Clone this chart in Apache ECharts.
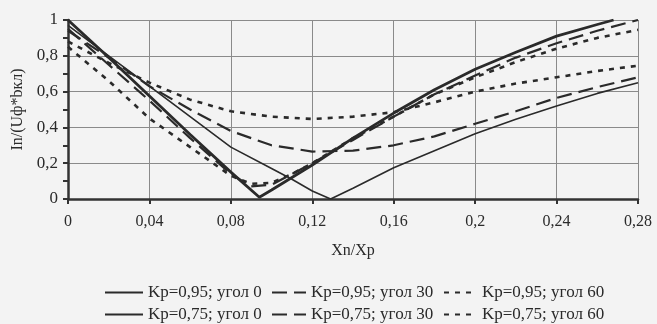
<!DOCTYPE html>
<html>
<head>
<meta charset="utf-8">
<script src="https://cdn.jsdelivr.net/npm/echarts@6/dist/echarts.min.js"></script>
<style>
  html, body { margin: 0; padding: 0; background: #f3f3f3; }
  #chart { width: 657px; height: 324px; }
</style>
</head>
<body>
<div id="chart"></div>
<script>
// Kp=0,95
const x95a0 = [0, 0.02, 0.04, 0.06, 0.08, 0.10, 0.11, 0.12, 0.129, 0.14, 0.16, 0.18, 0.2, 0.22, 0.24, 0.26, 0.28];
const y95a0 = [0.97, 0.80, 0.63, 0.46, 0.29, 0.17, 0.11, 0.045, 0.0, 0.06, 0.175, 0.27, 0.365, 0.445, 0.52, 0.59, 0.65];
const x95a30 = [0, 0.02, 0.04, 0.06, 0.08, 0.10, 0.12, 0.14, 0.16, 0.18, 0.2, 0.22, 0.24, 0.26, 0.28];
const y95a30 = [0.94, 0.79, 0.63, 0.50, 0.38, 0.30, 0.265, 0.27, 0.30, 0.35, 0.42, 0.49, 0.565, 0.625, 0.68];
const x95a60 = [0, 0.02, 0.04, 0.06, 0.08, 0.10, 0.12, 0.14, 0.16, 0.18, 0.2, 0.22, 0.24, 0.26, 0.28];
const y95a60 = [0.88, 0.76, 0.65, 0.555, 0.49, 0.46, 0.447, 0.46, 0.485, 0.54, 0.60, 0.645, 0.68, 0.715, 0.745];
// Kp=0,75
const x75a0 = [0, 0.02, 0.04, 0.06, 0.08, 0.094, 0.10, 0.12, 0.14, 0.16, 0.18, 0.2, 0.22, 0.24, 0.26, 0.268];
const y75a0 = [1.0, 0.79, 0.575, 0.36, 0.15, 0.01, 0.05, 0.19, 0.34, 0.48, 0.61, 0.725, 0.82, 0.91, 0.975, 1.0];
const x75a30 = [0, 0.02, 0.04, 0.06, 0.08, 0.09, 0.10, 0.12, 0.14, 0.16, 0.18, 0.2, 0.22, 0.24, 0.26, 0.28];
const y75a30 = [0.95, 0.75, 0.55, 0.34, 0.14, 0.07, 0.08, 0.2, 0.33, 0.46, 0.585, 0.69, 0.79, 0.87, 0.94, 1.0];
const x75a60 = [0, 0.02, 0.04, 0.06, 0.08, 0.09, 0.10, 0.11, 0.12, 0.14, 0.16, 0.18, 0.2, 0.22, 0.24, 0.26, 0.28];
const y75a60 = [0.85, 0.66, 0.45, 0.29, 0.13, 0.085, 0.09, 0.14, 0.2, 0.34, 0.46, 0.585, 0.68, 0.765, 0.84, 0.90, 0.945];

const names = [
    'Kp=0,95; угол 0', 'Kp=0,95; угол 30', 'Kp=0,95; угол 60',
    'Kp=0,75; угол 0', 'Kp=0,75; угол 30', 'Kp=0,75; угол 60'
];

const font = 'Liberation Serif';
const ink = '#2a2a2a';

function pairs(xs, ys) {
    return xs.map((x, i) => [x, ys[i]]);
}

function line(name, xs, ys, width, dash) {
    return {
        name: name,
        type: 'line',
        symbol: 'none',
        data: pairs(xs, ys),
        lineStyle: { color: ink, width: width, type: dash },
        itemStyle: { color: ink },
        z: 3
    };
}

// one legend per entry so each sits where it does in the picture
const legendLeft = [99, 266, 438];
const legendWidth = [38, 34, 33];
const legendTop = [279, 301];

function legendAt(i) {
    return {
        data: [names[i]],
        left: legendLeft[i % 3],
        top: legendTop[Math.floor(i / 3)],
        itemWidth: legendWidth[i % 3],
        itemHeight: 14,
        itemStyle: { opacity: 0, borderWidth: 0 },
        textStyle: { fontFamily: font, fontSize: 17, color: ink }
    };
}

const comma = v => String(v).replace('.', ',');

const myChart = echarts.init(document.getElementById('chart'));
const option = {
    backgroundColor: '#f3f3f3',
    animation: false,
    grid: { left: 68, right: 19, top: 20, bottom: 125 },
    legend: names.map((n, i) => legendAt(i)),
    xAxis: {
        type: 'value',
        min: 0, max: 0.28, interval: 0.04,
        name: 'Xn/Xp',
        nameLocation: 'middle',
        nameGap: 44,
        nameTextStyle: { fontFamily: font, fontSize: 16, color: ink },
        axisLine: { lineStyle: { color: '#333', width: 2.5 } },
        axisTick: { show: true, length: 5, lineStyle: { color: '#333', width: 2 } },
        axisLabel: { fontFamily: font, fontSize: 16, color: ink, margin: 15, formatter: comma },
        splitLine: { show: true, lineStyle: { color: '#8a8a8a', width: 1 } }
    },
    yAxis: {
        type: 'value',
        min: 0, max: 1, interval: 0.2,
        name: 'In/(Uф*bкл)',
        nameLocation: 'middle',
        nameGap: 42,
        nameRotate: 90,
        nameTextStyle: { fontFamily: font, fontSize: 16, color: ink },
        axisLine: { show: true, lineStyle: { color: '#333', width: 2.5 } },
        axisTick: { show: true, length: 5, lineStyle: { color: '#333', width: 2 } },
        minorTick: { show: true, splitNumber: 2, length: 5, lineStyle: { color: '#333', width: 2 } },
        axisLabel: { fontFamily: font, fontSize: 17, color: ink, margin: 10, formatter: comma },
        splitLine: { show: true, lineStyle: { color: '#8a8a8a', width: 1 } }
    },
    series: [
        line(names[0], x95a0, y95a0, 1.6, 'solid'),
        line(names[1], x95a30, y95a30, 2.2, [15, 7]),
        line(names[2], x95a60, y95a60, 2.6, [5, 6]),
        line(names[3], x75a0, y75a0, 2.8, 'solid'),
        line(names[4], x75a30, y75a30, 2.2, [15, 7]),
        line(names[5], x75a60, y75a60, 2.6, [5, 6])
    ]
};
myChart.setOption(option);
</script>
</body>
</html>
